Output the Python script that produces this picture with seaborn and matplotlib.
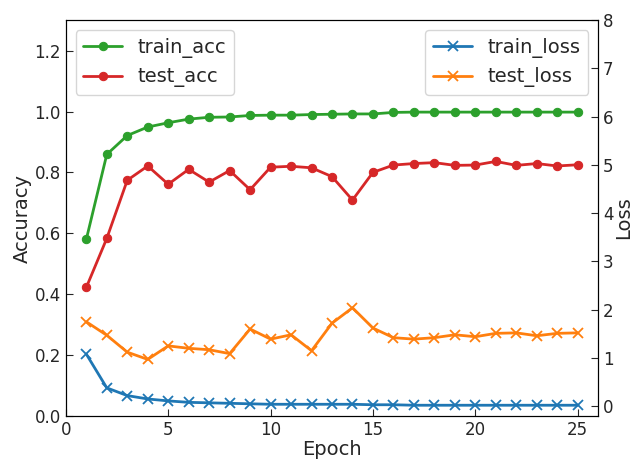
import numpy as np
import pandas as pd
import seaborn as sns
import matplotlib.pyplot as plt

epochs = list(range(1, 26))
train_acc = [0.580, 0.859, 0.921, 0.949, 0.963, 0.975, 0.981, 0.982, 0.987, 0.988,
             0.988, 0.990, 0.991, 0.992, 0.992, 0.997, 0.998, 0.998, 0.998, 0.998,
             0.998, 0.998, 0.998, 0.998, 0.998]
test_acc = [0.422, 0.583, 0.774, 0.821, 0.761, 0.810, 0.768, 0.806, 0.743, 0.817,
            0.820, 0.815, 0.786, 0.709, 0.800, 0.824, 0.829, 0.832, 0.823, 0.824,
            0.836, 0.823, 0.829, 0.821, 0.825]
train_loss = [1.08, 0.38, 0.22, 0.15, 0.11, 0.08, 0.07, 0.06, 0.05, 0.04,
              0.04, 0.04, 0.04, 0.04, 0.03, 0.03, 0.02, 0.02, 0.02, 0.02,
              0.02, 0.02, 0.02, 0.02, 0.02]
test_loss = [1.75, 1.47, 1.12, 0.97, 1.25, 1.20, 1.17, 1.09, 1.60, 1.39,
             1.48, 1.15, 1.72, 2.04, 1.62, 1.42, 1.39, 1.42, 1.48, 1.44,
             1.51, 1.52, 1.46, 1.51, 1.52]

df = pd.DataFrame({'epoch': epochs, 'train_acc': train_acc, 'test_acc': test_acc,
                   'train_loss': train_loss, 'test_loss': test_loss})

sns.set_style('ticks')
plt.rcParams['font.family'] = ['DejaVu Sans']

fig, ax1 = plt.subplots(figsize=(6.33, 4.59), dpi=100)
fig.subplots_adjust(left=0.104, right=0.945, top=0.956, bottom=0.094)
ax2 = ax1.twinx()

# accuracy on the left axis
sns.lineplot(data=df, x='epoch', y='train_acc', ax=ax1, color='tab:green', marker='o',
             markersize=6, markeredgecolor='tab:green', linewidth=2, label='train_acc')
sns.lineplot(data=df, x='epoch', y='test_acc', ax=ax1, color='tab:red', marker='o',
             markersize=6, markeredgecolor='tab:red', linewidth=2, label='test_acc')
# loss on the right axis
sns.lineplot(data=df, x='epoch', y='train_loss', ax=ax2, color='tab:blue', marker='x',
             markersize=7, markeredgewidth=1.3, markeredgecolor='tab:blue',
             linewidth=2, label='train_loss')
sns.lineplot(data=df, x='epoch', y='test_loss', ax=ax2, color='tab:orange', marker='x',
             markersize=7, markeredgewidth=1.3, markeredgecolor='tab:orange',
             linewidth=2, label='test_loss')

ax1.set_xlim(0, 26)
ax1.set_ylim(0, 1.3)
ax1.set_yticks([0.0, 0.2, 0.4, 0.6, 0.8, 1.0, 1.2])
ax2.set_ylim(-0.2, 8)
ax2.set_yticks(range(0, 9))
ax1.set_xticks([0, 5, 10, 15, 20, 25])

ax1.set_xlabel('Epoch', fontsize=14, labelpad=1)
ax1.set_ylabel('Accuracy', fontsize=14, labelpad=2)
ax2.set_ylabel('Loss', fontsize=14, labelpad=0)

for a in (ax1, ax2):
    a.tick_params(direction='in', labelsize=12, length=5)
    for s in a.spines.values():
        s.set_visible(True)
        s.set_color('black')

ax1.legend(loc='upper left', fontsize=14)
ax2.legend(loc='upper right', fontsize=14)

plt.savefig('out.png', dpi=100)
plt.close('all')
